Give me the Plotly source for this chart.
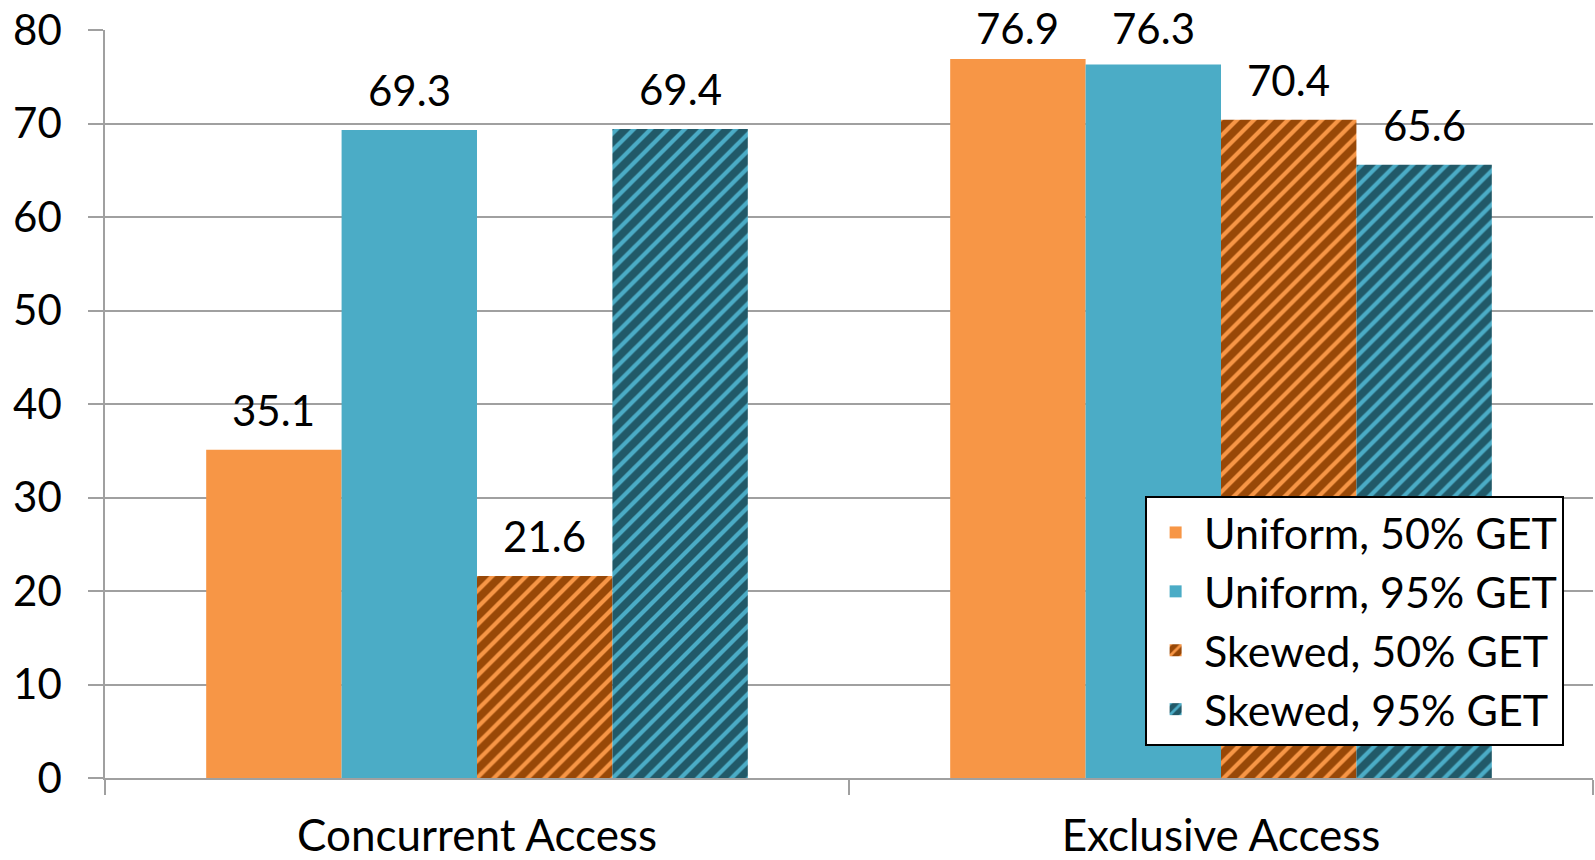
import plotly.graph_objects as go

categories = ["Concurrent Access", "Exclusive Access"]
series_names = ["Uniform, 50% GET", "Uniform, 95% GET", "Skewed, 50% GET", "Skewed, 95% GET"]
uniform_50 = [35.1, 76.9]
uniform_95 = [69.3, 76.3]
skewed_50 = [21.6, 70.4]
skewed_95 = [69.4, 65.6]
y_ticks = [0, 10, 20, 30, 40, 50, 60, 70, 80]

FONT = "Lato"
ORANGE = "#F79646"
BLUE = "#4BACC6"
BROWN = "#984807"
TEAL = "#215968"
BARGAP = 0.272
W, H = 1595, 860
M = dict(l=105, r=2, t=30, b=82)
Y_MAX = 80

values = [uniform_50, uniform_95, skewed_50, skewed_95]
styles = [
    dict(color=ORANGE, pattern=None),
    dict(color=BLUE, pattern=None),
    dict(color=BROWN, pattern=dict(shape="/", fgcolor=ORANGE, bgcolor=BROWN, size=12, solidity=0.35, fillmode="replace")),
    dict(color=TEAL, pattern=dict(shape="/", fgcolor=BLUE, bgcolor=TEAL, size=12, solidity=0.35, fillmode="replace")),
]

fig = go.Figure()
for name, vals, st in zip(series_names, values, styles):
    marker = dict(color=st["color"], line=dict(width=0))
    if st["pattern"]:
        marker["pattern"] = st["pattern"]
    fig.add_trace(go.Bar(
        name=name, x=categories, y=vals, marker=marker,
        legendgroup=name, hoverinfo="x+y+name",
    ))

# value labels above each bar; near the top they are held inside the chart area,
# as the original chart does
n_series = len(values)
bar_w = (1 - BARGAP) / n_series
px_per_unit = (H - M["t"] - M["b"]) / Y_MAX
LABEL_SHIFT = 13        # yshift giving the normal gap above a bar
NORMAL_GAP = 25         # normal gap between bar top and label baseline (px)
MIN_BASELINE = 43       # labels' baseline cannot rise above this (px from top)
for k, vals in enumerate(values):
    offset = (k - (n_series - 1) / 2) * bar_w
    for i, v in enumerate(vals):
        bar_top = M["t"] + (Y_MAX - v) * px_per_unit
        gap = min(NORMAL_GAP, bar_top - MIN_BASELINE)
        shift = LABEL_SHIFT - (NORMAL_GAP - gap)
        fig.add_annotation(
            x=i + offset, y=v, xref="x", yref="y",
            text=f"{v:.1f}", showarrow=False,
            yanchor="bottom", xanchor="center", yshift=shift,
            font=dict(family=FONT, size=42, color="black"),
        )

fig.update_layout(
    width=W, height=H,
    margin=M,
    paper_bgcolor="white", plot_bgcolor="white",
    barmode="group", bargap=BARGAP, bargroupgap=0,
    font=dict(family=FONT, size=42, color="black"),
    showlegend=True,
    legend=dict(
        x=0.699, y=0.377, xanchor="left", yanchor="top",
        bordercolor="black", borderwidth=2, bgcolor="white",
        font=dict(family=FONT, size=43, color="black"),
        traceorder="normal", tracegroupgap=8, itemwidth=47,
    ),
)
fig.update_yaxes(
    range=[0, Y_MAX], tickvals=y_ticks, automargin=False,
    showgrid=True, gridcolor="#A0A0A0", gridwidth=1.5,
    showline=True, linecolor="#A0A0A0", linewidth=1.5,
    zeroline=False,
    ticks="outside", ticklen=15, tickcolor="#A0A0A0", tickwidth=1.5,
    tickfont=dict(family=FONT, size=42, color="black"),
    ticklabelstandoff=18,
)
fig.update_xaxes(
    automargin=False,
    showline=True, linecolor="#A0A0A0", linewidth=1.5,
    ticks="outside", ticklen=15, tickcolor="#A0A0A0", tickwidth=1.5,
    tickson="boundaries",
    tickfont=dict(family=FONT, size=44, color="black"),
    ticklabelstandoff=18,
)

fig.write_html("out.html")
